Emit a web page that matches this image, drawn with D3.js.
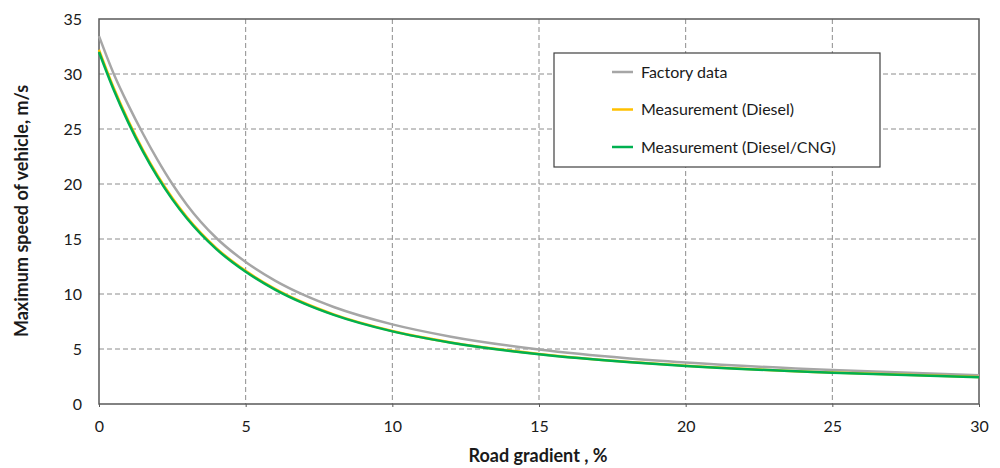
<!DOCTYPE html>
<html>
<head>
<meta charset="utf-8">
<script src="https://cdn.jsdelivr.net/npm/d3@7"></script>
<style>
  body { margin: 0; background: #fff; }
  svg text { font-family: Lato, "Open Sans", sans-serif; fill: #1a1a1a; }
</style>
</head>
<body>
<div id="chart"></div>
<script>
// data
var gradient  = [0, 0.5, 1, 1.5, 2, 2.5, 3, 4, 5, 6, 7, 8, 10, 12, 15, 18, 20, 25, 30];
var factory   = [33.44, 30.03, 27.17, 24.57, 22.17, 20.0, 18.1, 15.09, 12.91, 11.22, 9.89, 8.82, 7.24, 6.12, 4.96, 4.17, 3.78, 3.08, 2.61];
var diesel    = [32.2, 28.75, 25.74, 23.08, 20.75, 18.72, 16.97, 14.17, 12.1, 10.47, 9.18, 8.15, 6.64, 5.6, 4.55, 3.83, 3.48, 2.86, 2.46];
var dieselCng = [32.0, 28.57, 25.58, 22.94, 20.62, 18.6, 16.86, 14.08, 12.02, 10.4, 9.12, 8.1, 6.6, 5.57, 4.52, 3.81, 3.46, 2.84, 2.44];
var seriesNames = ["Factory data", "Measurement (Diesel)", "Measurement (Diesel/CNG)"];
var seriesColors = ["#a6a6a6", "#ffc000", "#00b050"];
var xTicks = [0, 5, 10, 15, 20, 25, 30];
var yTicks = [0, 5, 10, 15, 20, 25, 30, 35];

var width = 1000, height = 468;
var margin = { top: 19, right: 21, bottom: 64, left: 99 };
var innerW = width - margin.left - margin.right;
var innerH = height - margin.top - margin.bottom;

var svg = d3.select("#chart").append("svg").attr("width", width).attr("height", height);
var g = svg.append("g").attr("transform", "translate(" + margin.left + "," + margin.top + ")");

var xScale = d3.scaleLinear().domain([0, 30]).range([0, innerW]);
var yScale = d3.scaleLinear().domain([0, 35]).range([innerH, 0]);

// grid lines
g.selectAll(".vgrid").data(xTicks.slice(1, -1)).enter().append("line")
  .attr("x1", function(d) { return xScale(d); }).attr("x2", function(d) { return xScale(d); })
  .attr("y1", 0).attr("y2", innerH)
  .attr("stroke", "#8c8c8c").attr("stroke-width", 1).attr("stroke-dasharray", "5,3");
g.selectAll(".hgrid").data(yTicks.slice(1, -1)).enter().append("line")
  .attr("x1", 0).attr("x2", innerW)
  .attr("y1", function(d) { return yScale(d); }).attr("y2", function(d) { return yScale(d); })
  .attr("stroke", "#8c8c8c").attr("stroke-width", 1).attr("stroke-dasharray", "5,3");

// axes (labels only, frame drawn below)
var xAxis = g.append("g").attr("transform", "translate(0," + innerH + ")")
  .call(d3.axisBottom(xScale).tickValues(xTicks).tickSize(3).tickPadding(14));
var yAxis = g.append("g")
  .call(d3.axisLeft(yScale).tickValues(yTicks).tickSize(0).tickPadding(17));
[xAxis, yAxis].forEach(function(a) {
  a.select(".domain").remove();
  a.selectAll("line").attr("stroke", "#595959");
  a.selectAll("text").style("font-size", "16px").attr("fill", "#1a1a1a");
});

// plot frame
g.append("rect").attr("x", 0).attr("y", 0).attr("width", innerW).attr("height", innerH)
  .attr("fill", "none").attr("stroke", "#595959").attr("stroke-width", 1.5);

// lines
var line = d3.line()
  .x(function(d) { return xScale(d[0]); })
  .y(function(d) { return yScale(d[1]); })
  .curve(d3.curveMonotoneX);
[factory, diesel, dieselCng].forEach(function(vals, i) {
  g.append("path")
    .datum(gradient.map(function(x, j) { return [x, vals[j]]; }))
    .attr("fill", "none")
    .attr("stroke", seriesColors[i])
    .attr("stroke-width", 2.5)
    .attr("d", line);
});

// legend
var legend = svg.append("g").attr("transform", "translate(554,53)");
legend.append("rect").attr("width", 326).attr("height", 114)
  .attr("fill", "#fff").attr("stroke", "#404040").attr("stroke-width", 1.2);
seriesNames.forEach(function(name, i) {
  var yy = 19 + i * 37.5;
  legend.append("line").attr("x1", 58).attr("x2", 79).attr("y1", yy).attr("y2", yy)
    .attr("stroke", seriesColors[i]).attr("stroke-width", 2.5);
  legend.append("text").attr("x", 87).attr("y", yy).attr("dy", "0.35em")
    .style("font-size", "16px").text(name);
});

// axis titles
svg.append("text").attr("x", 538).attr("y", 456).attr("dy", "0.35em")
  .attr("text-anchor", "middle").style("font-size", "18px").style("font-weight", "bold")
  .text("Road gradient , %");
svg.append("text").attr("transform", "translate(22,211) rotate(-90)").attr("dy", "0.35em")
  .attr("text-anchor", "middle").style("font-size", "18px").style("font-weight", "bold")
  .text("Maximum speed of vehicle, m/s");
</script>
</body>
</html>
